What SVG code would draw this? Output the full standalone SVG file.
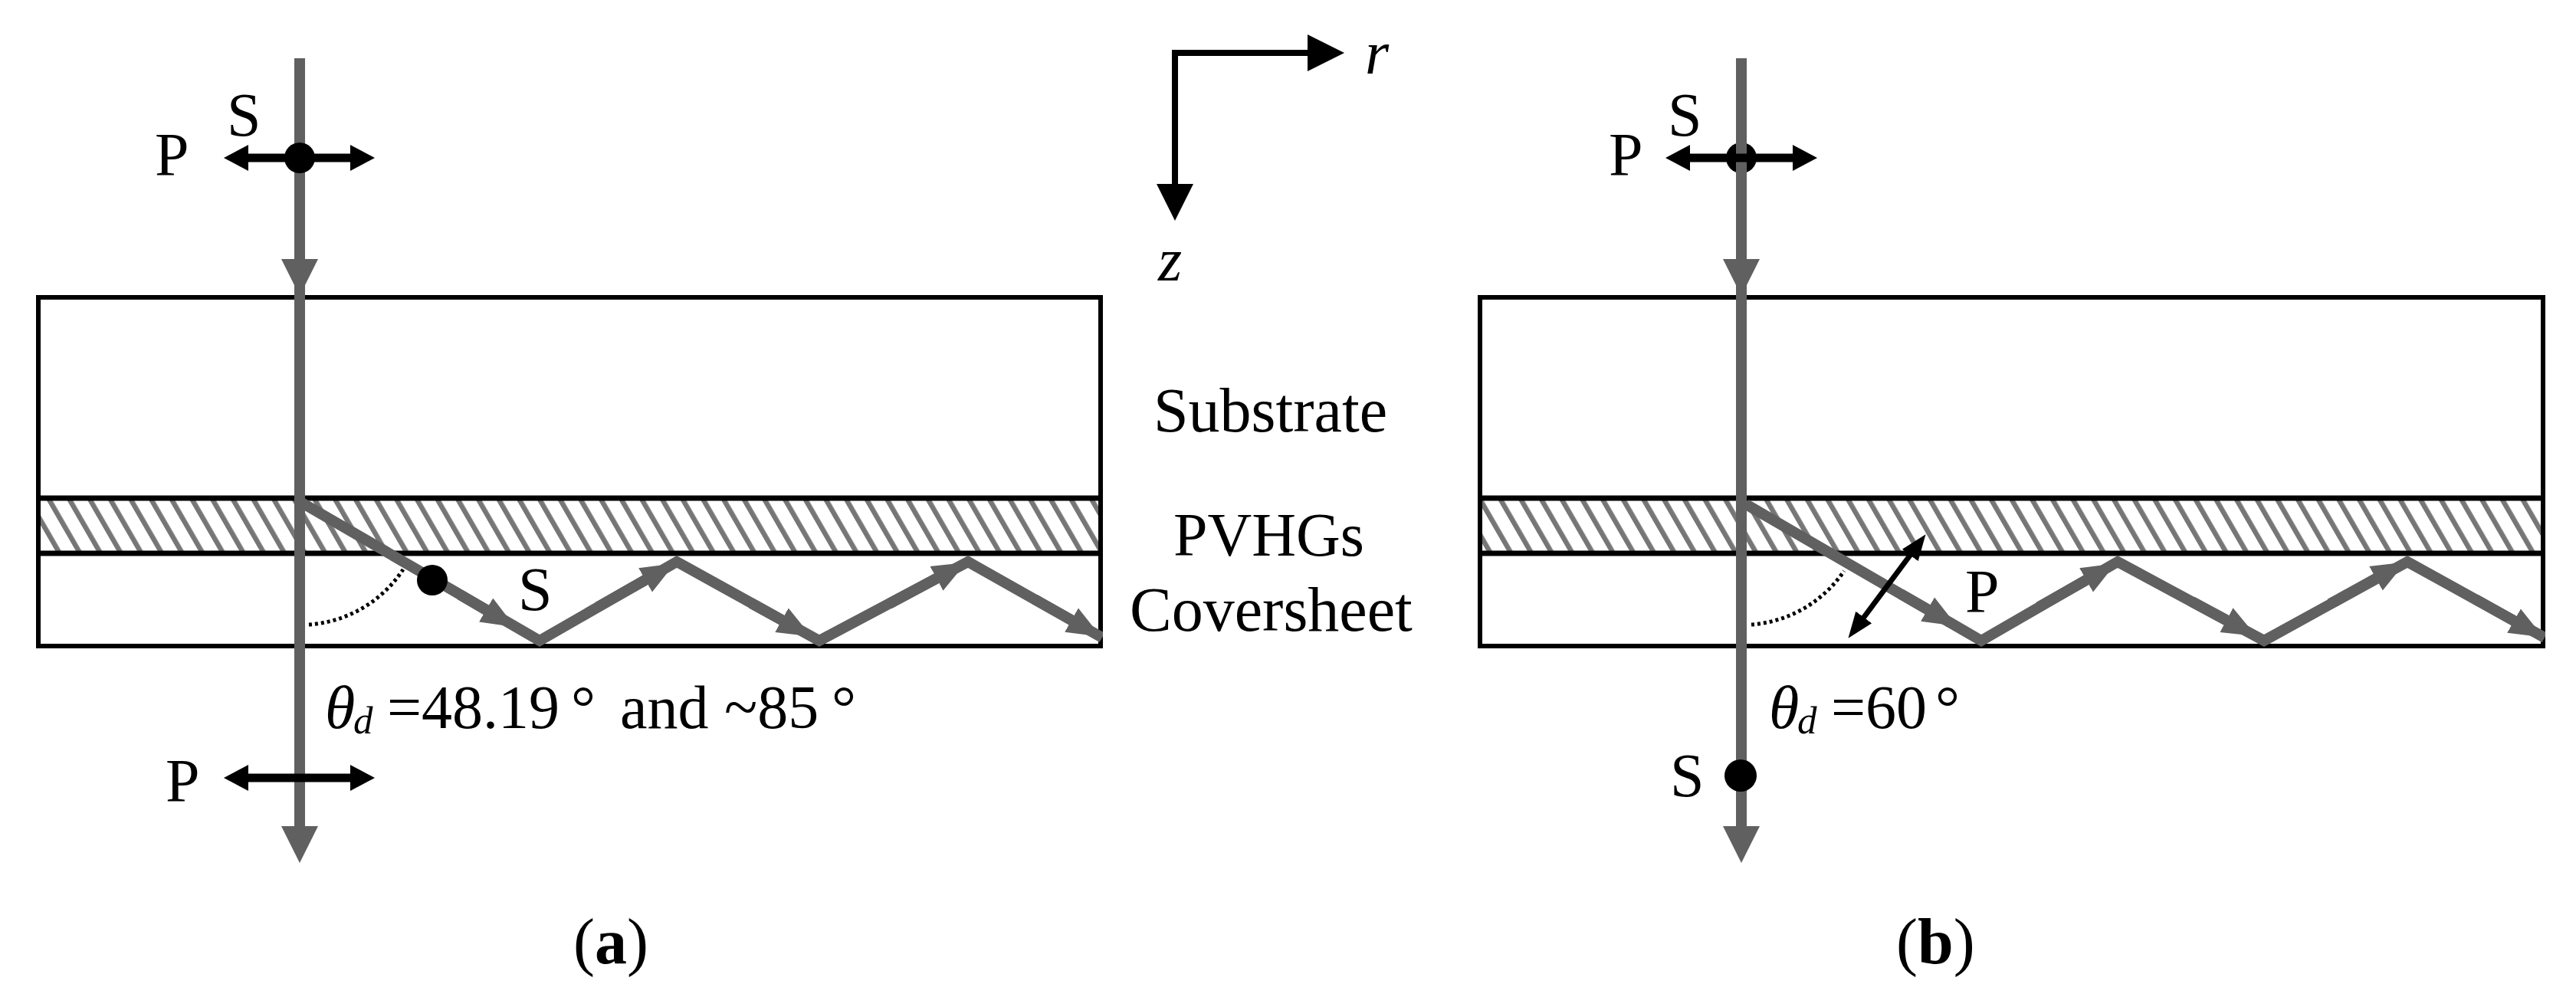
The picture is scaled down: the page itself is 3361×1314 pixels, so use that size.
<svg xmlns="http://www.w3.org/2000/svg" width="3361" height="1314" viewBox="0 0 3361 1314">
<style>
text{font-family:"Liberation Serif","Times New Roman",serif;font-size:80px;fill:#000}
.i{font-style:italic}
.sub{font-style:italic;font-size:51px}
.cap{font-size:84px}
.b{font-weight:bold}
.wide{font-size:82px}
.frame{fill:none;stroke:#000;stroke-width:6}
.rule{stroke:#000;stroke-width:7;fill:none}
.beam{fill:none;stroke:#606060;stroke-width:14}
.ray{fill:none;stroke:#606060;stroke-width:14;stroke-linejoin:miter}
.pol{stroke:#000;stroke-width:11;fill:none}
.tilt{stroke:#000;stroke-width:7;fill:none}
.ax{stroke:#000;stroke-width:8;fill:none}
.arc{fill:none;stroke:#000;stroke-width:5;stroke-dasharray:4 4}
</style>
<defs>
<pattern id="hatch" patternUnits="userSpaceOnUse" width="23.1" height="40" patternTransform="translate(4 0) rotate(-30)">
<rect x="0" y="0" width="6.5" height="40" fill="#767676"/>
</pattern>
<marker id="grayBig" markerUnits="userSpaceOnUse" markerWidth="50" markerHeight="50" refX="8" refY="25" orient="auto"><polygon points="0,1 48,25 0,49" fill="#606060"/></marker>
<marker id="graySmall" markerUnits="userSpaceOnUse" markerWidth="46" markerHeight="38" refX="8" refY="19" orient="auto"><polygon points="0,1 44,19 0,37" fill="#606060"/></marker>
<marker id="polEnd" markerUnits="userSpaceOnUse" markerWidth="34" markerHeight="34" refX="8" refY="17" orient="auto-start-reverse"><polygon points="0,0 32,17 0,34" fill="#000"/></marker>
<marker id="polTilt" markerUnits="userSpaceOnUse" markerWidth="36" markerHeight="28" refX="8" refY="14" orient="auto-start-reverse"><polygon points="0,1 34,14 0,27" fill="#000"/></marker>
<marker id="axisEnd" markerUnits="userSpaceOnUse" markerWidth="50" markerHeight="50" refX="8" refY="25" orient="auto"><polygon points="0,1 48,25 0,49" fill="#000"/></marker>
<clipPath id="clipA"><rect x="50" y="650" width="1389" height="200"/></clipPath>
<clipPath id="clipB"><rect x="1931" y="650" width="1390" height="200"/></clipPath>
</defs>
<rect width="3361" height="1314" fill="#fff"/>

<g id="layers-a">
<rect x="50" y="650" width="1386" height="72" fill="url(#hatch)"/>
<rect class="frame" x="50" y="388" width="1386" height="455"/>
<line class="rule" x1="50" y1="650" x2="1436" y2="650"/>
<line class="rule" x1="50" y1="722" x2="1436" y2="722"/>
</g>
<g id="layers-b">
<rect x="1931" y="650" width="1387" height="72" fill="url(#hatch)"/>
<rect class="frame" x="1931" y="388" width="1387" height="455"/>
<line class="rule" x1="1931" y1="650" x2="3318" y2="650"/>
<line class="rule" x1="1931" y1="722" x2="3318" y2="722"/>
</g>
<g id="dot-b-top"><circle cx="2272" cy="206" r="20"/></g>

<g id="connectors">
<g id="beams-a">
<line class="beam" x1="391" y1="76" x2="391" y2="346" marker-end="url(#grayBig)"/>
<line class="beam" x1="391" y1="370" x2="391" y2="1086" marker-end="url(#grayBig)"/>
<g clip-path="url(#clipA)">
<path class="ray" d="M392 655L704 836L883 733L1069 836L1263 733L1438 832"/>
<line class="ray" x1="600" y1="776" x2="641" y2="800" marker-end="url(#graySmall)"/>
<line class="ray" x1="780" y1="792" x2="849" y2="753" marker-end="url(#graySmall)"/>
<line class="ray" x1="980" y1="787" x2="1027" y2="813" marker-end="url(#graySmall)"/>
<line class="ray" x1="1160" y1="788" x2="1229" y2="751" marker-end="url(#graySmall)"/>
<line class="ray" x1="1350" y1="782" x2="1405" y2="813" marker-end="url(#graySmall)"/>
</g>
<path class="arc" d="M403 815A160 160 0 0 0 526 743"/>
</g>
<g id="beams-b">
<line class="beam" x1="2272" y1="76" x2="2272" y2="346" marker-end="url(#grayBig)"/>
<line class="beam" x1="2272" y1="370" x2="2272" y2="1086" marker-end="url(#grayBig)"/>
<g clip-path="url(#clipB)">
<path class="ray" d="M2278 658L2585 836L2763 733L2954 836L3141 733L3320 832"/>
<line class="ray" x1="2480" y1="775" x2="2522" y2="799" marker-end="url(#graySmall)"/>
<line class="ray" x1="2660" y1="792" x2="2729" y2="753" marker-end="url(#graySmall)"/>
<line class="ray" x1="2860" y1="785" x2="2912" y2="813" marker-end="url(#graySmall)"/>
<line class="ray" x1="3040" y1="788" x2="3107" y2="751" marker-end="url(#graySmall)"/>
<line class="ray" x1="3230" y1="782" x2="3287" y2="814" marker-end="url(#graySmall)"/>
</g>
<path class="arc" d="M2285 815A160 160 0 0 0 2406 745"/>
</g>
<line class="pol" x1="316" y1="206" x2="465" y2="206" marker-start="url(#polEnd)" marker-end="url(#polEnd)"/>
<line class="pol" x1="316" y1="1015" x2="465" y2="1015" marker-start="url(#polEnd)" marker-end="url(#polEnd)"/>
<line class="pol" x1="2197" y1="206" x2="2347" y2="206" marker-start="url(#polEnd)" marker-end="url(#polEnd)"/>
<line class="tilt" x1="2497" y1="718" x2="2427" y2="812" marker-start="url(#polTilt)" marker-end="url(#polTilt)"/>
<line class="ax" x1="1529" y1="69" x2="1714" y2="69" marker-end="url(#axisEnd)"/>
<line class="ax" x1="1533" y1="65" x2="1533" y2="248" marker-end="url(#axisEnd)"/>
</g>

<g id="dot-a-top"><circle cx="391" cy="206" r="20"/></g>
<g id="dot-a-mid"><circle cx="564" cy="757" r="20"/></g>
<g id="dot-b-bottom"><circle cx="2271" cy="1012" r="21"/></g>

<g id="label-axes"><text class="i" x="1781" y="96">r</text><text class="i" x="1511" y="366">z</text></g>
<g id="label-layers">
<text class="wide" x="1505" y="563">Substrate</text>
<text x="1531" y="725">PVHGs</text>
<text class="wide" x="1474" y="823">Coversheet</text>
</g>
<g id="label-a">
<text x="296" y="177">S</text>
<text x="202" y="229">P</text>
<text x="676" y="796">S</text>
<text x="216" y="1046">P</text>
<text class="i" x="424" y="950">θ</text><text class="sub" x="461" y="957">d</text>
<text x="505" y="950">=48.19</text><text x="745" y="950">°</text>
<text x="809" y="950">and</text><text x="945" y="950">~85</text><text x="1085" y="950">°</text>
<text class="cap" x="748" y="1257">(<tspan class="b">a</tspan>)</text>
</g>
<g id="label-b">
<text x="2176" y="177">S</text>
<text x="2099" y="229">P</text>
<text x="2564" y="799">P</text>
<text x="2179" y="1039">S</text>
<text class="i" x="2308" y="950">θ</text><text class="sub" x="2345" y="957">d</text>
<text x="2389" y="950">=60</text><text x="2525" y="950">°</text>
<text class="cap" x="2474" y="1257">(<tspan class="b">b</tspan>)</text>
</g>
</svg>
